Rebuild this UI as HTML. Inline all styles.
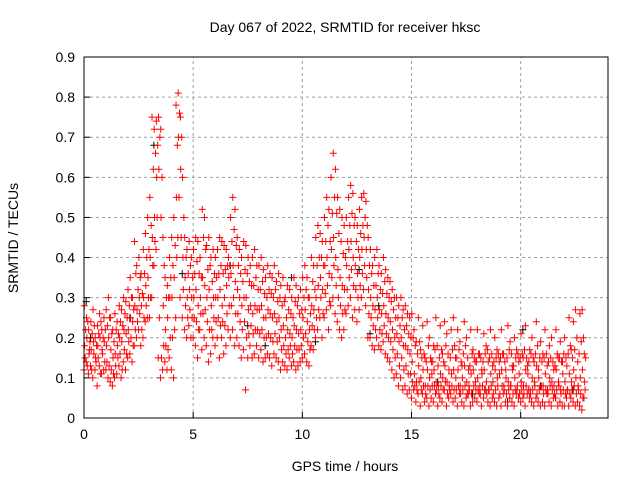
<!DOCTYPE html>
<html><head><meta charset="utf-8"><style>
html,body{margin:0;padding:0;background:#fff;}
svg text{font-family:"Liberation Sans",sans-serif;font-size:14px;fill:#000;}
</style></head><body>
<svg id="chart" width="640" height="480" viewBox="0 0 640 480" xmlns="http://www.w3.org/2000/svg">
<rect x="0" y="0" width="640" height="480" fill="#fff"/>
<g id="grid"></g>
<g id="ticks"></g>
<g id="pts"></g>
<rect x="84" y="57" width="524" height="361" fill="none" stroke="#000" stroke-width="1"/>
<text x="345" y="32" text-anchor="middle">Day 067 of 2022, SRMTID for receiver hksc</text>
<text x="345" y="471" text-anchor="middle">GPS time / hours</text>
<text transform="translate(18,238) rotate(-90)" text-anchor="middle">SRMTID / TECUs</text>
</svg>
<script>
const xTicks=[0,5,10,15,20];
const yTicks=[0,0.1,0.2,0.3,0.4,0.5,0.6,0.7,0.8,0.9];
const yTickLabels=["0","0.1","0.2","0.3","0.4","0.5","0.6","0.7","0.8","0.9"];
const binStep=0.1;
const redHigh=[.28,.25,.22,.24,.27,.2,.23,.26,.22,.25,
.27,.3,.25,.22,.26,.24,.28,.27,.3,.29,
.32,.35,.3,.44,.38,.4,.36,.42,.46,.5,
.55,.75,.72,.74,.75,.72,.45,.35,.33,.4,
.45,.5,.78,.81,.75,.6,.45,.42,.44,.4,
.42,.45,.44,.4,.52,.5,.43,.45,.4,.42,
.4,.42,.45,.44,.43,.42,.4,.5,.55,.52,
.45,.42,.4,.44,.43,.4,.38,.4,.42,.38,
.38,.4,.37,.35,.38,.36,.35,.38,.34,.36,
.33,.35,.3,.33,.32,.3,.35,.33,.3,.32,
.35,.38,.35,.3,.4,.38,.45,.48,.46,.44,
.5,.55,.52,.6,.66,.62,.55,.52,.5,.48,
.5,.55,.58,.56,.5,.48,.52,.55,.56,.54,
.45,.42,.38,.4,.42,.38,.36,.4,.37,.35,
.34,.32,.3,.3,.28,.3,.27,.28,.26,.25,
.26,.22,.19,.25,.17,.23,.15,.24,.2,.14,
.18,.25,.13,.23,.16,.24,.21,.12,.22,.25,
.15,.22,.19,.13,.24,.2,.12,.22,.17,.14,
.22,.16,.12,.21,.18,.14,.22,.13,.2,.17,
.14,.22,.16,.12,.23,.19,.13,.2,.17,.14,
.21,.15,.23,.13,.17,.2,.14,.24,.12,.19,
.16,.22,.13,.18,.2,.12,.22,.15,.19,.14,
.2,.13,.25,.17,.24,.27,.14,.26,.27,.16];
const redMid=[.18,.2,.16,.17,.19,.15,.18,.2,.17,.19,
.18,.2,.17,.15,.16,.18,.2,.19,.22,.21,
.22,.25,.24,.28,.27,.3,.28,.3,.33,.35,
.4,.45,.5,.6,.62,.5,.28,.22,.25,.3,
.3,.35,.55,.7,.62,.4,.35,.3,.32,.3,
.3,.32,.28,.3,.35,.33,.3,.32,.28,.3,
.3,.3,.32,.28,.3,.33,.35,.36,.38,.34,
.32,.3,.28,.3,.3,.27,.28,.26,.28,.27,
.27,.28,.25,.25,.27,.26,.25,.26,.24,.25,
.22,.23,.2,.22,.21,.2,.23,.22,.21,.22,
.25,.27,.24,.22,.28,.27,.3,.33,.35,.32,
.38,.4,.36,.42,.45,.4,.37,.35,.33,.32,
.38,.42,.44,.4,.38,.36,.4,.42,.45,.42,
.32,.3,.28,.27,.3,.27,.26,.28,.26,.25,
.24,.22,.2,.21,.19,.2,.18,.18,.17,.16,
.14,.11,.09,.13,.1,.12,.08,.12,.1,.11,
.12,.09,.08,.11,.1,.13,.09,.08,.11,.12,
.1,.12,.08,.1,.13,.09,.08,.11,.12,.09,
.1,.08,.11,.12,.09,.07,.11,.09,.12,.1,
.11,.12,.08,.1,.09,.08,.12,.1,.07,.11,
.09,.08,.12,.11,.07,.1,.09,.13,.1,.08,
.08,.11,.07,.1,.09,.08,.12,.09,.07,.11,
.09,.07,.11,.09,.12,.1,.08,.1,.12,.09];
const redLow=[.12,.14,.11,.13,.1,.12,.08,.13,.11,.12,
.12,.1,.09,.08,.1,.11,.13,.1,.14,.12,
.15,.16,.14,.18,.2,.22,.18,.2,.24,.25,
.25,.3,.38,.42,.15,.1,.12,.14,.12,.15,
.12,.1,.25,.45,.3,.25,.22,.2,.23,.2,
.2,.18,.15,.22,.17,.2,.18,.14,.16,.2,
.18,.2,.15,.2,.16,.18,.22,.2,.22,.18,
.2,.18,.15,.17,.07,.15,.18,.15,.16,.18,
.15,.17,.14,.15,.16,.15,.13,.16,.15,.14,
.12,.14,.13,.12,.15,.13,.14,.12,.13,.14,
.15,.16,.14,.13,.18,.17,.2,.22,.25,.2,
.25,.27,.22,.28,.3,.26,.24,.22,.2,.22,
.26,.28,.3,.25,.27,.24,.27,.3,.32,.28,
.2,.2,.18,.17,.2,.18,.17,.19,.16,.15,
.14,.12,.1,.11,.08,.1,.07,.08,.06,.07,
.05,.07,.04,.06,.03,.06,.04,.05,.03,.05,
.04,.06,.03,.05,.04,.07,.03,.05,.06,.04,
.05,.03,.06,.04,.03,.05,.06,.03,.04,.05,
.04,.06,.03,.05,.07,.04,.03,.05,.04,.03,
.05,.03,.06,.04,.03,.05,.04,.03,.06,.05,
.04,.05,.03,.06,.05,.04,.03,.05,.04,.03,
.04,.03,.06,.04,.03,.05,.05,.03,.04,.03,
.03,.05,.03,.05,.04,.03,.04,.03,.02,.05];
const redQ1=[.15,.13,.17,.12,.16,.14,.15,.11,.16,.14,
.14,.13,.12,.11,.13,.15,.16,.12,.17,.16,
.19,.2,.18,.22,.24,.26,.22,.25,.28,.3,
.3,.38,.44,.5,.25,.15,.18,.18,.17,.2,
.2,.22,.4,.55,.45,.32,.28,.25,.27,.25,
.25,.24,.22,.26,.26,.27,.24,.22,.22,.25,
.24,.25,.23,.24,.23,.26,.28,.28,.3,.26,
.26,.24,.22,.24,.2,.21,.23,.21,.22,.22,
.21,.22,.2,.2,.21,.2,.19,.21,.19,.2,
.17,.18,.16,.17,.18,.16,.18,.17,.17,.18,
.2,.21,.19,.17,.23,.22,.25,.27,.3,.26,
.31,.33,.29,.35,.38,.33,.3,.28,.26,.27,
.32,.35,.37,.33,.32,.3,.33,.36,.38,.35,
.26,.25,.23,.22,.25,.22,.21,.23,.21,.2,
.19,.17,.15,.16,.13,.15,.12,.13,.11,.11,
.09,.08,.07,.09,.07,.08,.06,.08,.07,.08,
.08,.07,.06,.08,.07,.09,.06,.07,.08,.07,
.07,.08,.06,.07,.08,.06,.07,.06,.08,.07,
.07,.06,.08,.07,.06,.07,.08,.06,.07,.08,
.06,.08,.07,.06,.07,.08,.06,.07,.08,.06,
.07,.06,.08,.07,.06,.07,.08,.06,.07,.08,
.06,.07,.06,.08,.07,.06,.07,.08,.06,.07,
.06,.07,.06,.07,.08,.06,.07,.06,.05,.07];
const redQ3=[.22,.24,.19,.21,.23,.18,.21,.24,.2,.22,
.23,.25,.21,.19,.22,.21,.24,.23,.26,.25,
.28,.3,.27,.36,.32,.35,.31,.36,.4,.42,
.48,.62,.66,.68,.7,.6,.38,.3,.3,.35,
.38,.43,.68,.76,.7,.5,.4,.36,.38,.35,
.36,.39,.36,.35,.45,.42,.37,.38,.34,.36,
.35,.36,.38,.36,.37,.38,.38,.44,.47,.43,
.38,.36,.34,.37,.36,.34,.33,.33,.35,.32,
.32,.34,.31,.3,.32,.31,.3,.32,.29,.3,
.28,.29,.25,.27,.26,.25,.29,.28,.26,.27,
.3,.32,.3,.26,.34,.32,.38,.4,.4,.38,
.44,.48,.44,.51,.55,.51,.46,.44,.41,.4,
.44,.48,.51,.48,.44,.42,.46,.48,.5,.48,
.38,.36,.33,.33,.36,.32,.31,.34,.31,.3,
.29,.27,.25,.25,.23,.25,.22,.23,.21,.2,
.2,.18,.16,.19,.15,.16,.14,.18,.15,.14,
.17,.18,.15,.17,.14,.18,.16,.15,.17,.18,
.15,.17,.14,.16,.18,.15,.13,.16,.15,.14,
.16,.15,.14,.16,.17,.15,.16,.14,.15,.16,
.15,.16,.14,.15,.17,.16,.13,.15,.16,.15,
.16,.17,.15,.14,.16,.15,.16,.18,.15,.14,
.15,.16,.14,.15,.14,.13,.16,.15,.14,.16,
.15,.16,.18,.15,.17,.2,.16,.19,.2,.15];
const blackTimes=[0.1,0.3,2.1,3.2,4.5,6.7,7.5,8.3,9.5,10.6,12.6,13.1,13.5,16.2,17.8,19.4,20.1,20.9,21.6,22.4];
const blackValues=[0.29,0.2,0.25,0.68,0.36,0.38,0.23,0.18,0.35,0.19,0.37,0.21,0.28,0.09,0.06,0.04,0.22,0.08,0.05,0.07];

const NS="http://www.w3.org/2000/svg";
const X0=84,X1=608,Y0=418,Y1=57,XMAX=24,YMAX=0.9;
function xs(t){return X0+(X1-X0)*t/XMAX;}
function ys(v){return Y0-(Y0-Y1)*v/YMAX;}
function mk(tag,attrs,parent){const e=document.createElementNS(NS,tag);for(const k in attrs)e.setAttribute(k,attrs[k]);parent.appendChild(e);return e;}
const grid=document.getElementById('grid'),ticks=document.getElementById('ticks'),pts=document.getElementById('pts');
xTicks.forEach(t=>{
  const x=xs(t);
  if(t>0){const g=mk('line',{x1:x,y1:Y0,x2:x,y2:Y1,stroke:'#a0a0a0','stroke-dasharray':'3,3'},grid);
  
  }
  const l=mk('line',{x1:x,y1:Y0,x2:x,y2:Y0-6,stroke:'#000'},ticks);
  
  
  const tx=mk('text',{x:x,y:Y0+21,'text-anchor':'middle'},ticks);tx.textContent=t;
  
  
});
yTicks.forEach((v,i)=>{
  const y=ys(v);
  if(v>0&&v<YMAX){const g=mk('line',{x1:X0,y1:y,x2:X1,y2:y,stroke:'#a0a0a0','stroke-dasharray':'3,3'},grid);
  
  }
  const l=mk('line',{x1:X0,y1:y,x2:X0+6,y2:y,stroke:'#000'},ticks);
  
  
  const tx=mk('text',{x:X0-9,y:y+5,'text-anchor':'end'},ticks);tx.textContent=yTickLabels[i];
  
  
});
function cross(t,v,color){
  const x=xs(t),y=ys(v);
  const p=mk('path',{d:`M${x-3.5},${y}h7M${x},${y-3.5}v7`,stroke:color,'stroke-width':1,fill:'none'},pts);
  
  
}
blackTimes.forEach((t,i)=>cross(t,blackValues[i],'#000'));
const series=[redLow,redQ1,redMid,redQ3,redHigh];
const offsets=[0,0.05,0.03,0.075,0.015];
series.forEach((arr,s)=>arr.forEach((v,i)=>cross(i*binStep+offsets[s],v,'#ff0000')));
</script>
</body></html>
